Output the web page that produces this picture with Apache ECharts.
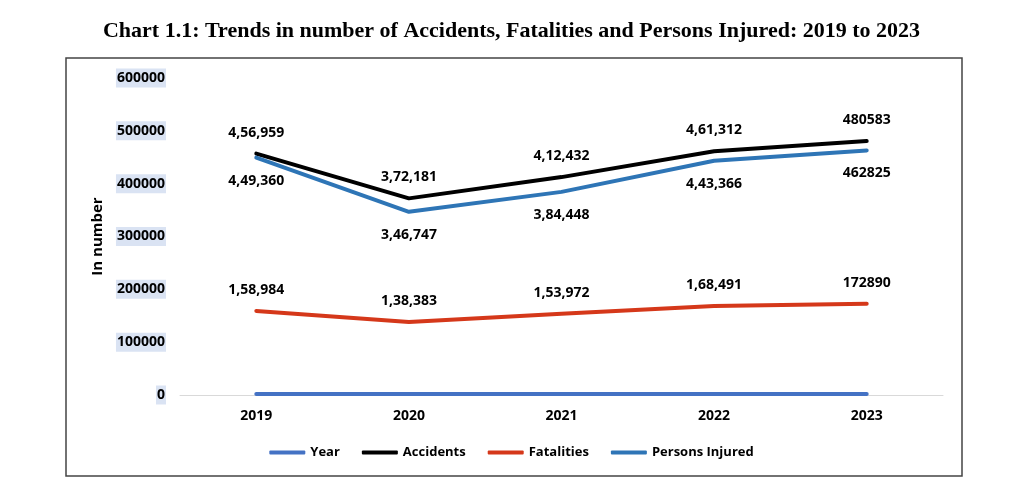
<!DOCTYPE html>
<html>
<head>
<meta charset="utf-8">
<script src="https://cdn.jsdelivr.net/npm/echarts@6/dist/echarts.min.js"></script>
<style>
    html, body {margin: 0; padding: 0; background: #fff;}
    #chart {width: 1023px; height: 483px;}
</style>
</head>
<body>
<div id="chart"></div>
<script>
    var years = ['2019', '2020', '2021', '2022', '2023'];
    var yearValues = [2019, 2020, 2021, 2022, 2023];
    var accidents = [456959, 372181, 412432, 461312, 480583];
    var fatalities = [158984, 138383, 153972, 168491, 172890];
    var injured = [449360, 346747, 384448, 443366, 462825];
    // the last year is written without separators in the source chart
    var plainLabelIndex = 4;

    function indian(n) {
        var s = String(n);
        var last3 = s.slice(-3), rest = s.slice(0, -3);
        if (rest) {
            rest = rest.replace(/\B(?=(\d{2})+(?!\d))/g, ',');
            return rest + ',' + last3;
        }
        return last3;
    }

    function labelFmt(p) {
        return p.dataIndex === plainLabelIndex ? String(p.value) : indian(p.value);
    }

    var font = '"Open Sans", "DejaVu Sans", sans-serif';

    var mycharts = echarts.init(document.getElementById('chart'));
    var option = {
        animation: false,
        textStyle: {fontFamily: font},
        title: {
            text: 'Chart 1.1: Trends in number of Accidents, Fatalities and Persons Injured: 2019 to 2023',
            left: 'center',
            top: 15,
            textStyle: {
                fontFamily: '"Liberation Serif", "Times New Roman", serif',
                fontSize: 22,
                fontWeight: 'bold',
                color: '#000'
            }
        },
        graphic: [{
            type: 'rect',
            shape: {x: 66, y: 58, width: 896, height: 418},
            style: {fill: 'none', stroke: '#444', lineWidth: 1.5},
            silent: true
        }],
        legend: {
            bottom: 19,
            left: 'center',
            icon: 'roundRect',
            itemWidth: 36,
            itemHeight: 4,
            itemGap: 22,
            textStyle: {fontFamily: font, fontSize: 13, fontWeight: 'bold', color: '#000'},
            data: ['Year', 'Accidents', 'Fatalities', 'Persons Injured']
        },
        grid: {left: 180, right: 80, top: 78, bottom: 88},
        xAxis: {
            type: 'category',
            data: years,
            axisLine: {lineStyle: {color: '#D9D9D9', width: 1}},
            axisTick: {show: false},
            axisLabel: {
                margin: 14,
                fontFamily: font, fontSize: 14, fontWeight: 'bold', color: '#000'
            }
        },
        yAxis: {
            type: 'value',
            min: 0,
            max: 600000,
            interval: 100000,
            name: 'In number',
            nameLocation: 'middle',
            nameGap: 75,
            nameTextStyle: {fontFamily: font, fontSize: 15, fontWeight: 'bold', color: '#000'},
            splitLine: {show: false},
            axisLine: {show: false},
            axisTick: {show: false},
            axisLabel: {
                margin: 14,
                formatter: function (v) { return String(v); },
                fontFamily: font, fontSize: 14, fontWeight: 'bold', color: '#000',
                backgroundColor: '#DAE3F3',
                padding: [3, 1, 2, 1]
            }
        },
        series: [{
            name: 'Year',
            type: 'line',
            data: yearValues,
            symbol: 'circle',
            symbolSize: 0,
            color: '#4472C4',
            lineStyle: {width: 4, cap: 'round'}
        }, {
            name: 'Accidents',
            type: 'line',
            data: accidents,
            symbol: 'circle',
            symbolSize: 0,
            color: '#000000',
            lineStyle: {width: 4, cap: 'round'},
            label: {
                show: true, position: 'top', distance: 14,
                formatter: labelFmt,
                fontFamily: font, fontSize: 14, fontWeight: 'bold', color: '#000'
            }
        }, {
            name: 'Fatalities',
            type: 'line',
            data: fatalities,
            symbol: 'circle',
            symbolSize: 0,
            color: '#D5381A',
            lineStyle: {width: 4, cap: 'round'},
            label: {
                show: true, position: 'top', distance: 14,
                formatter: labelFmt,
                fontFamily: font, fontSize: 14, fontWeight: 'bold', color: '#000'
            }
        }, {
            name: 'Persons Injured',
            type: 'line',
            data: injured,
            symbol: 'circle',
            symbolSize: 0,
            color: '#2E75B6',
            lineStyle: {width: 4, cap: 'round'},
            label: {
                show: true, position: 'bottom', distance: 16,
                formatter: labelFmt,
                fontFamily: font, fontSize: 14, fontWeight: 'bold', color: '#000'
            }
        }]
    };
    mycharts.setOption(option);
</script>
</body>
</html>
